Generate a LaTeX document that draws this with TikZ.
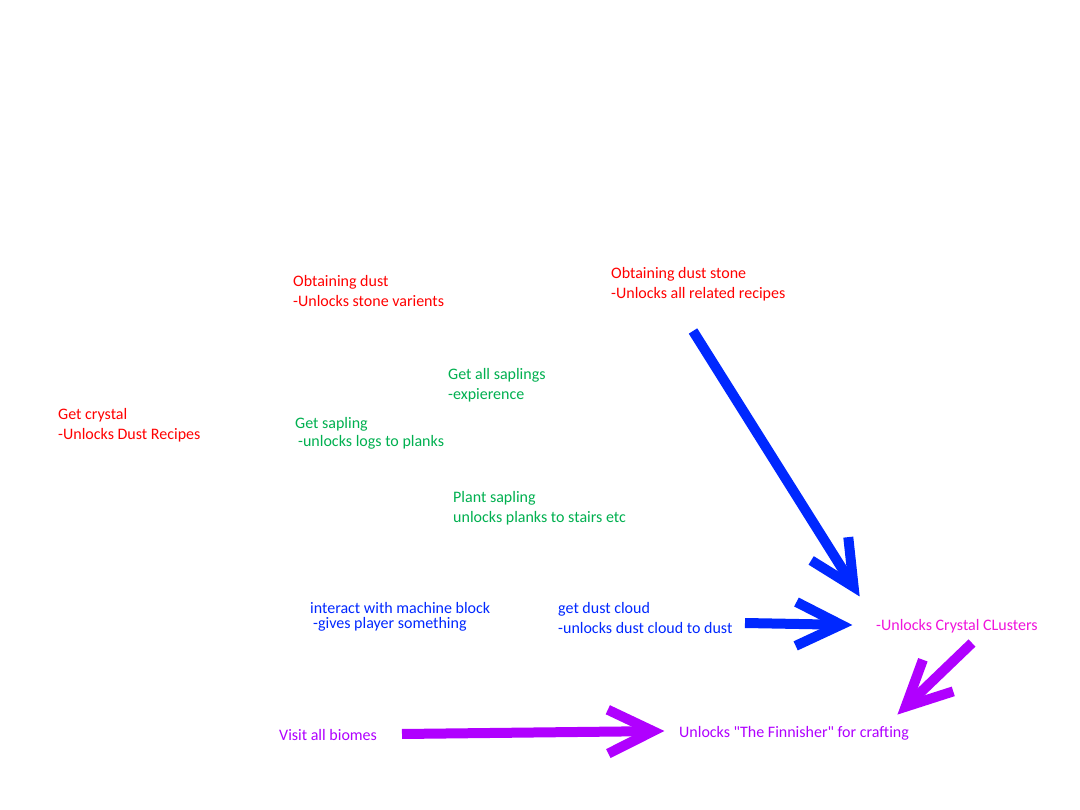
\documentclass[tikz,border=0pt]{standalone}
\usepackage{fontspec}
\setmainfont{Carlito}
\usetikzlibrary{calc}

\definecolor{stepred}{RGB}{255,0,0}
\definecolor{stepgreen}{RGB}{0,176,80}
\definecolor{stepblue}{RGB}{0,40,255}
\definecolor{steppink}{RGB}{240,20,220}
\definecolor{steppurple}{RGB}{176,0,255}

% thick line arrow with an open chevron head; #1 colour, #2 tail, #3 tip
\newcommand\fatarrow[3]{%
  \coordinate (#3-v) at ($(#3)!12pt!(#2)$);
  \coordinate (#3-a) at ($(#3-v)!50pt!26:(#2)$);
  \coordinate (#3-b) at ($(#3-v)!50pt!-26:(#2)$);
  \draw[fatline, #1] (#2) -- (#3-v);
  \draw[fatline, #1, line join=miter] (#3-a) -- (#3-v) -- (#3-b);
}

\begin{document}
\begin{tikzpicture}[x=1pt, y=-1pt,
  label/.style={anchor=base west, inner sep=0pt, align=left,
    font=\fontsize{16}{20}\selectfont},
  fatline/.style={line width=10pt, line cap=butt}]
  \fill[white] (0,0) rectangle (1080,810);
  \useasboundingbox (0,0) rectangle (1080,810);

  % milestones (positions give the baseline of the last line)
  \node[label, text=stepred] (dust) at (293,307) {Obtaining dust\\-Unlocks stone varients};
  \node[label, text=stepred] (stone) at (611,299) {Obtaining dust stone\\-Unlocks all related recipes};
  \node[label, text=stepred] (crystal) at (58,439) {Get crystal\\-Unlocks Dust Recipes};
  \node[label, text=stepgreen] (allsap) at (448,400) {Get all saplings\\-expierence};
  \node[label, text=stepgreen] (sapling) at (295,447) {Get sapling\\[-2pt]\hspace{3pt}-unlocks logs to planks};
  \node[label, text=stepgreen] (plant) at (453,522) {Plant sapling\\unlocks planks to stairs etc};
  \node[label, text=stepblue] (machine) at (310,628) {interact with machine block\\[-5pt]\hspace{3pt}-gives player something};
  \node[label, text=stepblue] (cloud) at (558,633) {get dust cloud\\-unlocks dust cloud to dust};
  \node[label, text=steppink] (clusters) at (876,630) {-Unlocks Crystal CLusters};
  \node[label, text=steppurple] (biomes) at (279,740) {Visit all biomes};
  \node[label, text=steppurple] (finisher) at (679,737) {Unlocks \textquotedbl The Finnisher\textquotedbl{} for crafting};

  % arrow ends
  \coordinate (stone-out) at (693,331);
  \coordinate (clusters-in1) at (860,597);
  \coordinate (cloud-out) at (745,623);
  \coordinate (clusters-in2) at (853,625);
  \coordinate (biomes-out) at (402,734);
  \coordinate (finisher-in1) at (665,731);
  \coordinate (clusters-out) at (972,643);
  \coordinate (finisher-in2) at (897,715);

  \fatarrow{stepblue}{stone-out}{clusters-in1}
  \fatarrow{stepblue}{cloud-out}{clusters-in2}
  \fatarrow{steppurple}{biomes-out}{finisher-in1}
  \fatarrow{steppurple}{clusters-out}{finisher-in2}
\end{tikzpicture}
\end{document}
